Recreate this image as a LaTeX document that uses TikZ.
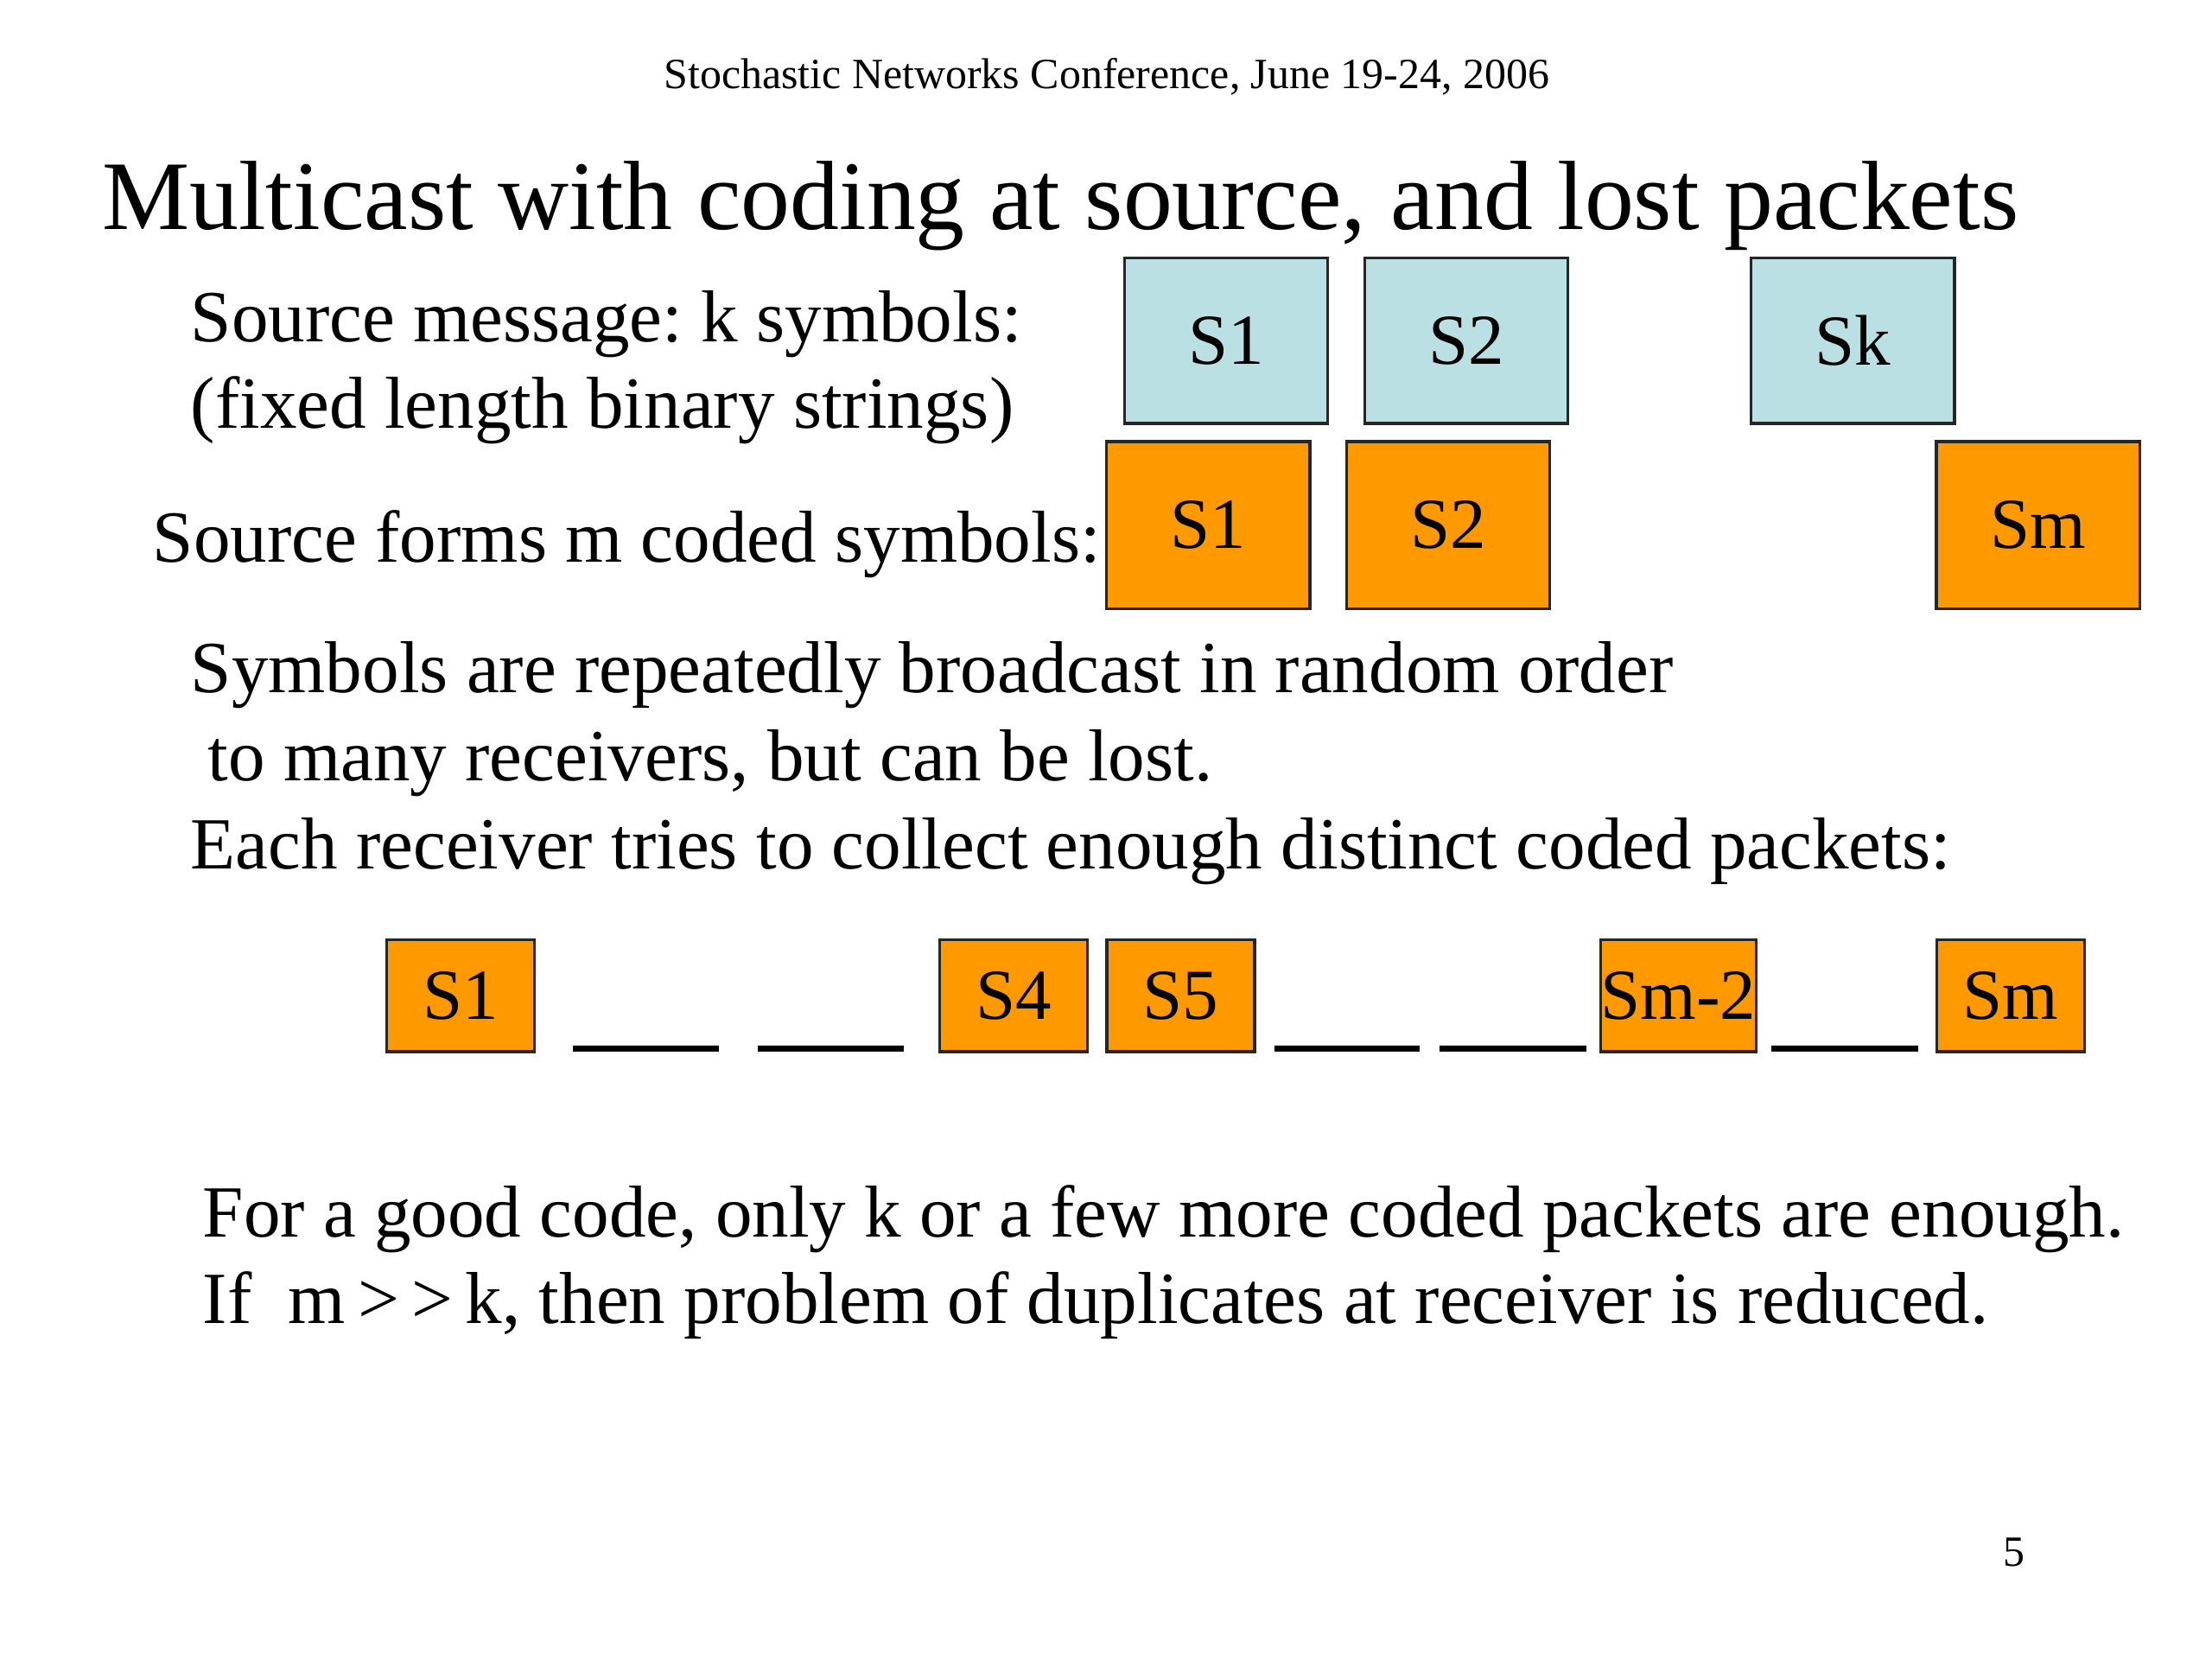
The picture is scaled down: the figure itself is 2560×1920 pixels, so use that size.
\documentclass[tikz,border=0pt]{standalone}
\usepackage{fontspec}
\setmainfont{Liberation Serif}
\definecolor{boxblue}{RGB}{187,224,228}
\definecolor{boxorange}{RGB}{255,153,0}
\frenchspacing
\begin{document}
\begin{tikzpicture}[x=0.01cm,y=-0.01cm,
  txt/.style={anchor=base west, inner sep=0pt, font=\fontsize{24.2}{28}\selectfont},
  symbox/.style={draw=black!85, line width=0.9pt, inner sep=0pt, font=\fontsize{23.6}{28}\selectfont},
  bluebox/.style={symbox, fill=boxblue, minimum width=2.35cm, minimum height=1.91cm},
  orbox/.style={symbox, fill=boxorange, minimum width=2.35cm, minimum height=1.93cm},
  smallbox/.style={symbox, fill=boxorange, minimum width=1.71cm, minimum height=1.29cm},
  blank/.style={line width=2pt}]
\useasboundingbox (0,0) rectangle (2560,1920);
\begin{scope}[scale=0.996]
% header and title
\node[anchor=base, inner sep=0pt, font=\fontsize{14.2}{16}\selectfont] (hdr) at (1286,103) {Stochastic Networks Conference, June 19-24, 2006};
\node[anchor=base west, inner sep=0pt, font=\fontsize{32.35}{36}\selectfont] (title) at (118,267) {Multicast with coding at source, and lost packets};
% left texts
\node[txt] (t1) at (221,397) {Source message: k symbols:};
\node[txt] (t2) at (221,497) {(fixed length binary strings)};
\node[txt] (t3) at (177,653) {Source forms m coded symbols:};
\node[txt] (t4) at (221,805) {Symbols are repeatedly broadcast in random order};
\node[txt] (t5) at (241,907) {to many receivers, but can be lost.};
\node[txt] (t6) at (221,1010) {Each receiver tries to collect enough distinct coded packets:};
\node[txt] (t7) at (235,1437) {For a good code, only k or a few more coded packets are enough.};
\node[txt] (t8) at (235,1538) {If~~m\,>\,>\,k, then problem of duplicates at receiver is reduced.};
\node[anchor=base, inner sep=0pt, font=\fontsize{14.2}{16}\selectfont] (pg) at (2340,1820) {5};
% source symbols
\node[bluebox] (b1) at (1425,396) {S1};
\node[bluebox] (b2) at (1704,396) {S2};
\node[bluebox] (bk) at (2153,396) {Sk};
% coded symbols
\node[orbox] (c1) at (1404,610) {S1};
\node[orbox] (c2) at (1683,610) {S2};
\node[orbox] (cm) at (2368,610) {Sm};
% received packets
\node[smallbox] (r1) at (535,1157) {S1};
\node[smallbox] (r4) at (1178,1157) {S4};
\node[smallbox] (r5) at (1372,1157) {S5};
\node[smallbox] (rm2) at (1950,1157) {Sm-2};
\node[smallbox] (rm) at (2336,1157) {Sm};
% missing packets
\draw[blank] (666,1218) -- (835,1218);
\draw[blank] (881,1218) -- (1050,1218);
\draw[blank] (1481,1218) -- (1650,1218);
\draw[blank] (1673,1218) -- (1843,1218);
\draw[blank] (2058,1218) -- (2229,1218);
\end{scope}
\end{tikzpicture}
\end{document}
